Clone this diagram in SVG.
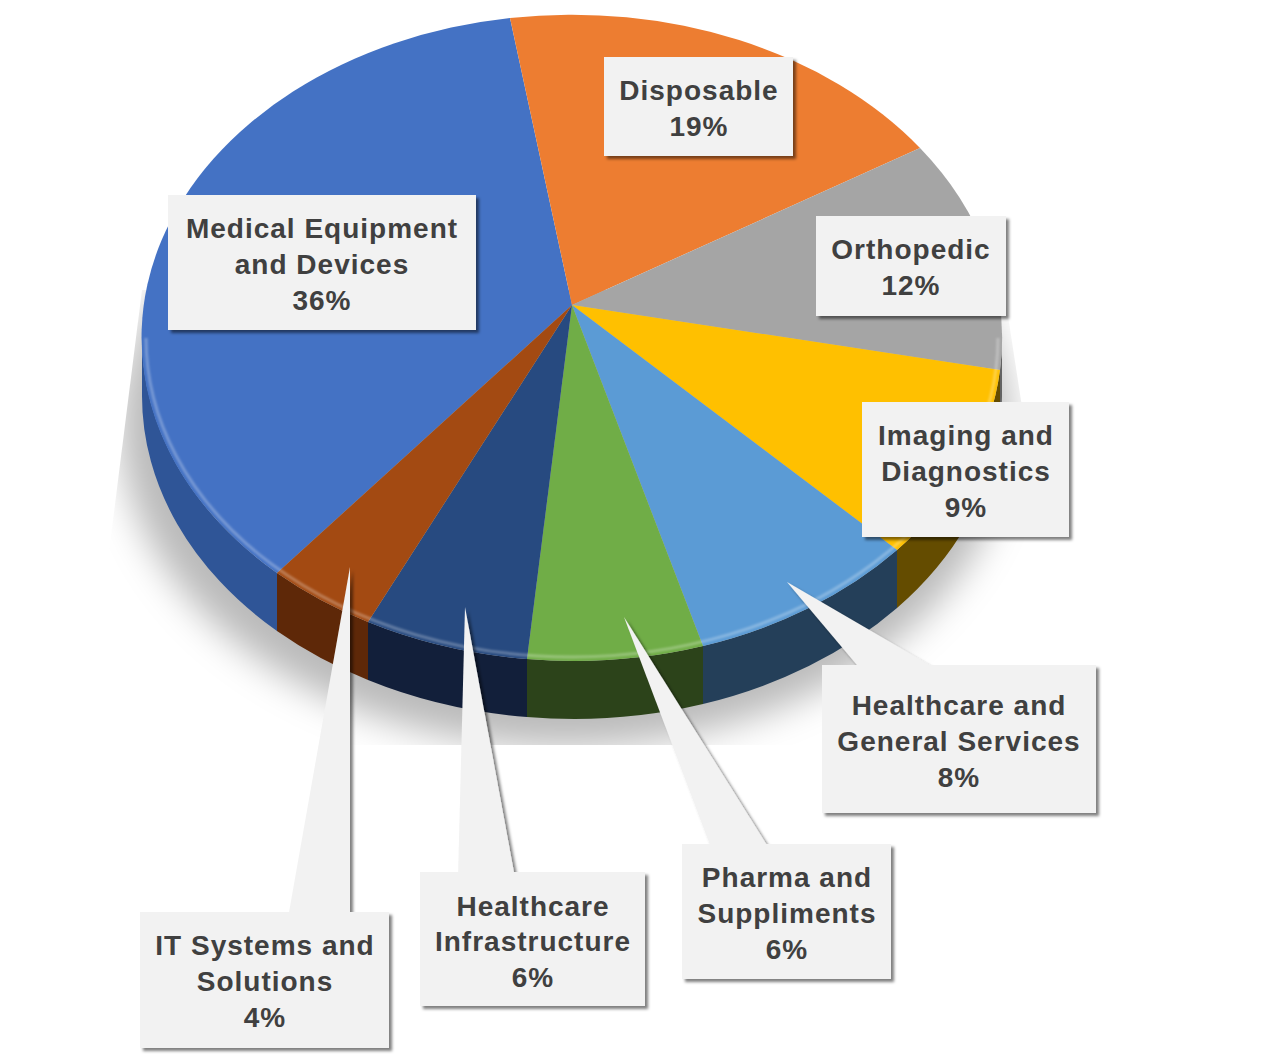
<svg xmlns="http://www.w3.org/2000/svg" width="1280" height="1064" viewBox="0 0 1280 1064">
<defs>
<style>
.lbl{font-family:"Liberation Sans",Arial,Helvetica,sans-serif;font-weight:bold;font-size:28px;fill:#404040;text-anchor:middle;letter-spacing:1px}
.box{fill:#f2f2f2;filter:url(#ds)}
.ptr{fill:#f2f2f2;filter:url(#ds)}
</style>
<filter id="ds" x="-10%" y="-10%" width="130%" height="130%">
<feDropShadow dx="3" dy="3" stdDeviation="1.8" flood-color="#000" flood-opacity="0.5"/>
</filter>
<filter id="blur" x="-20%" y="-20%" width="140%" height="140%">
<feGaussianBlur stdDeviation="18"/>
</filter>
<filter id="soft" x="-5%" y="-5%" width="110%" height="110%">
<feGaussianBlur stdDeviation="1.2"/>
</filter>
<clipPath id="shClip"><path d="M142,290 L1004,290 L1024,420 L1024,745 L100,745 L108,560 Z"/></clipPath>
</defs>
<rect width="1280" height="1064" fill="#ffffff"/>

<g id="shadow" clip-path="url(#shClip)">
<ellipse cx="565" cy="425" rx="445" ry="322" fill="#000" fill-opacity="0.27" filter="url(#blur)"/>
</g>

<g id="pie">
<g id="slice-medical">
<path d="M142,338 A430,323 0 0 0 277,573 L277,631 A430,323 0 0 1 142,396 Z" fill="#2f5597"/>
<path d="M572,305 L277,573 A430,323 0 0 1 510,18 Z" fill="#4472c4"/>
</g>
<g id="slice-disposable">
<path d="M572,305 L510,18 A430,323 0 0 1 920,148 Z" fill="#ed7d31"/>
</g>
<g id="slice-orthopedic">
<path d="M1000,370 A430,323 0 0 0 1002,338 L1002,396 A430,323 0 0 1 1000,428 Z" fill="#636363"/>
<path d="M572,305 L920,148 A430,323 0 0 1 1000,370 Z" fill="#a5a5a5"/>
</g>
<g id="slice-imaging">
<path d="M897,550 A430,323 0 0 0 1000,370 L1000,428 A430,323 0 0 1 897,608 Z" fill="#644c00"/>
<path d="M572,305 L1000,370 A430,323 0 0 1 897,550 Z" fill="#ffc000"/>
</g>
<g id="slice-services">
<path d="M703,646 A430,323 0 0 0 897,550 L897,608 A430,323 0 0 1 703,704 Z" fill="#243f59"/>
<path d="M572,305 L897,550 A430,323 0 0 1 703,646 Z" fill="#5b9bd5"/>
</g>
<g id="slice-pharma">
<path d="M527,659 A430,323 0 0 0 703,646 L703,704 A430,323 0 0 1 527,717 Z" fill="#2c431a"/>
<path d="M572,305 L703,646 A430,323 0 0 1 527,659 Z" fill="#70ad47"/>
</g>
<g id="slice-infrastructure">
<path d="M368,622 A430,323 0 0 0 527,659 L527,717 A430,323 0 0 1 368,680 Z" fill="#121f3a"/>
<path d="M572,305 L527,659 A430,323 0 0 1 368,622 Z" fill="#274a80"/>
</g>
<g id="slice-it">
<path d="M277,573 A430,323 0 0 0 368,622 L368,680 A430,323 0 0 1 277,631 Z" fill="#5e2808"/>
<path d="M572,305 L368,622 A430,323 0 0 1 277,573 Z" fill="#a34a12"/>
</g>
<path id="rim" d="M146,338 A426,319 0 0 0 998,338" fill="none" stroke="#ffffff" stroke-opacity="0.28" stroke-width="3" filter="url(#soft)"/>
</g>

<g id="connectors">
<path class="ptr" d="M288,918 L350,567 L350,918 Z"/>
<path class="ptr" d="M458,878 L465,607 L515,878 Z"/>
<path class="ptr" d="M712,850 L624,617 L770,850 Z"/>
<path class="ptr" d="M862,671 L787,582 L940,671 Z"/>
</g>

<g id="node-medical">
<rect class="box" x="168" y="195" width="308" height="135"/>
<text class="lbl" x="322" y="238">Medical Equipment</text>
<text class="lbl" x="322" y="274">and Devices</text>
<text class="lbl" x="322" y="310">36%</text>
</g>
<g id="node-disposable">
<rect class="box" x="604" y="57" width="189" height="99"/>
<text class="lbl" x="699" y="100">Disposable</text>
<text class="lbl" x="699" y="136">19%</text>
</g>
<g id="node-orthopedic">
<rect class="box" x="816" y="216" width="190" height="100"/>
<text class="lbl" x="911" y="259">Orthopedic</text>
<text class="lbl" x="911" y="295">12%</text>
</g>
<g id="node-imaging">
<rect class="box" x="862" y="402" width="207" height="135"/>
<text class="lbl" x="966" y="445">Imaging and</text>
<text class="lbl" x="966" y="481">Diagnostics</text>
<text class="lbl" x="966" y="517">9%</text>
</g>
<g id="node-services">
<rect class="box" x="822" y="665" width="274" height="148"/>
<text class="lbl" x="959" y="715">Healthcare and</text>
<text class="lbl" x="959" y="751">General Services</text>
<text class="lbl" x="959" y="787">8%</text>
</g>
<g id="node-pharma">
<rect class="box" x="682" y="844" width="209" height="135"/>
<text class="lbl" x="787" y="887">Pharma and</text>
<text class="lbl" x="787" y="923">Suppliments</text>
<text class="lbl" x="787" y="959">6%</text>
</g>
<g id="node-infrastructure">
<rect class="box" x="420" y="872" width="225" height="134"/>
<text class="lbl" x="533" y="916">Healthcare</text>
<text class="lbl" x="533" y="951">Infrastructure</text>
<text class="lbl" x="533" y="987">6%</text>
</g>
<g id="node-it">
<rect class="box" x="140" y="912" width="249" height="136"/>
<text class="lbl" x="265" y="955">IT Systems and</text>
<text class="lbl" x="265" y="991">Solutions</text>
<text class="lbl" x="265" y="1027">4%</text>
</g>
</svg>
